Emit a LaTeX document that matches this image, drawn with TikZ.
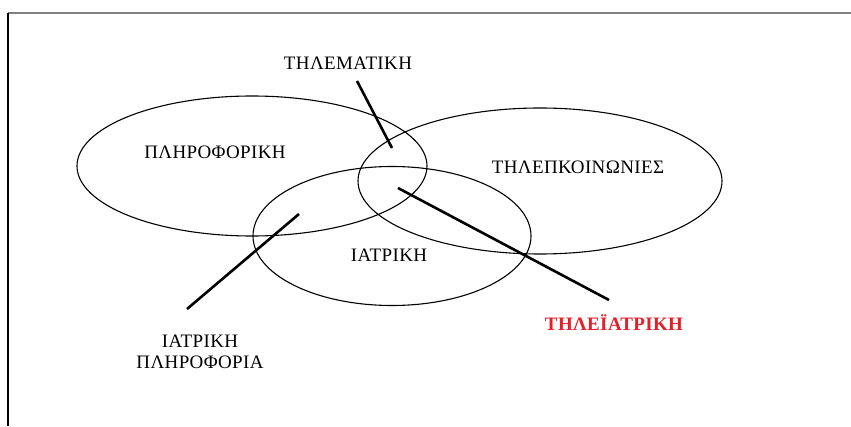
\documentclass[tikz,border=0pt]{standalone}
\usepackage{fontspec}
\setmainfont{Liberation Serif}[LetterSpace=2]
\usetikzlibrary{shapes.geometric}
\definecolor{framegray}{RGB}{128,128,128}
\definecolor{telered}{RGB}{230,30,40}
\begin{document}
\begin{tikzpicture}[x=1pt,y=1pt,
  field/.style={ellipse, draw, line width=1.1pt, inner sep=0pt},
  leader/.style={line width=2.6pt},
  lbl/.style={font=\fontsize{19}{21}\selectfont, inner sep=0pt, align=center}]
  \useasboundingbox (0,0) rectangle (851,426);
  % page frame
  \draw[framegray, line width=2pt] (8,413) -- (851,413);
  \draw[black, line width=1.4pt] (8,413) -- (8,0);

  % the three fields
  \node[field, minimum width=350pt, minimum height=140pt] (inf) at (252,260) {};
  \node[field, minimum width=364pt, minimum height=146pt] (tel) at (540,245) {};
  \node[field, minimum width=278pt, minimum height=139pt] (med) at (392,190) {};

  % field names
  \node[lbl] (tinf) at (215,274) {ΠΛΗΡΟΦΟΡΙΚΗ};
  \node[lbl] (ttel) at (578,259) {ΤΗΛΕΠΚΟΙΝΩΝΙΕΣ};
  \node[lbl] (tmed) at (389,171) {ΙΑΤΡΙΚΗ};

  % overlap names
  \node[lbl] (ttlm) at (348,363) {ΤΗΛΕΜΑΤΙΚΗ};
  \node[lbl] (tmi) at (200,74) {ΙΑΤΡΙΚΗ\\[-0.5pt]ΠΛΗΡΟΦΟΡΙΑ};
  \node[lbl, text=telered, font=\fontsize{19}{21}\selectfont\bfseries] (ttm) at (614,103) {ΤΗΛΕΪΑΤΡΙΚΗ};

  % leader lines
  \coordinate (l1a) at (357,345);
  \coordinate (l1b) at (392,278);
  \coordinate (l2a) at (299,212);
  \coordinate (l2b) at (187,117);
  \coordinate (l3a) at (398,238);
  \coordinate (l3b) at (609,126);
  \draw[leader] (l1a) -- (l1b);
  \draw[leader] (l2a) -- (l2b);
  \draw[leader] (l3a) -- (l3b);
\end{tikzpicture}
\end{document}
